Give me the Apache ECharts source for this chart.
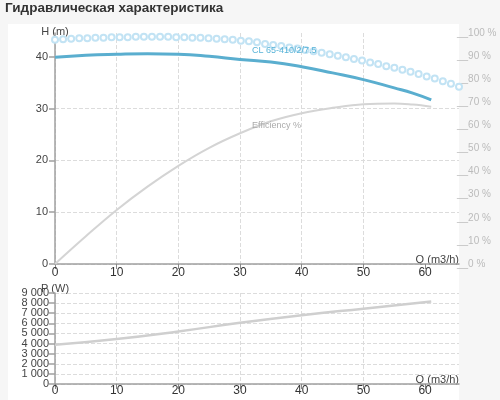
<!DOCTYPE html>
<html><head><meta charset="utf-8">
<script src="https://cdn.jsdelivr.net/npm/echarts@6/dist/echarts.min.js"></script>
<style>html,body{margin:0;padding:0;background:#f6f6f6}#c{width:500px;height:400px}</style>
</head><body><div id="c"></div>
<script>
const titleText = 'Гидравлическая характеристика';
const curveName = 'CL 65-410/2/7.5';
const effName = 'Efficiency %';
const qName = 'Q (m3/h)';
const hName = 'H (m)';
const pName = 'P (W)';

const qTicks = [0, 10, 20, 30, 40, 50, 60];
const hTicks = [0, 10, 20, 30, 40];
const pTicks = [0, 1000, 2000, 3000, 4000, 5000, 6000, 7000, 8000, 9000];

// Head curve
const hQ = [0, 5, 10, 15, 20, 25, 30, 35, 40, 45, 50, 55, 58, 61];
const hH = [39.9, 40.3, 40.5, 40.6, 40.5, 40.1, 39.5, 39.0, 38.1, 36.9, 35.6, 34.0, 33.0, 31.7];

// Efficiency curve (%)
const effQ = [0, 5, 10, 15, 20, 25, 30, 35, 40, 45, 50, 55, 58, 61];
const effV = [0, 12.0, 23.4, 33.5, 42.5, 50.3, 56.6, 61.8, 65.3, 67.6, 69.2, 69.5, 69.0, 68.1];

// Dotted (hollow circle) curve
const dotQ = [0, 1.31, 2.62, 3.93, 5.24, 6.55, 7.86, 9.17, 10.48, 11.79, 13.1, 14.41, 15.72, 17.03, 18.34, 19.65, 20.96,
  22.27, 23.58, 24.89, 26.2, 27.51, 28.82, 30.13, 31.44, 32.75, 34.06, 35.37, 36.68, 37.99, 39.3, 40.61, 41.92, 43.23,
  44.54, 45.85, 47.16, 48.47, 49.78, 51.09, 52.4, 53.71, 55.02, 56.33, 57.64, 58.95, 60.26, 61.57, 62.88, 64.19, 65.5];
const dotH = [43.3, 43.4, 43.5, 43.6, 43.6, 43.7, 43.7, 43.8, 43.8, 43.8, 43.9, 43.9, 43.9, 43.9, 43.9, 43.8, 43.8,
  43.7, 43.7, 43.6, 43.5, 43.4, 43.3, 43.1, 43.0, 42.8, 42.5, 42.3, 42.1, 41.8, 41.6, 41.3, 41.1, 40.8,
  40.5, 40.2, 39.9, 39.6, 39.3, 38.9, 38.6, 38.2, 37.9, 37.5, 37.1, 36.7, 36.2, 35.8, 35.3, 34.8, 34.2];

// Power curve (W)
const pQ = [0, 10, 20, 30, 40, 50, 61];
const pW = [3870, 4450, 5200, 6050, 6800, 7450, 8150];

const labelIdx = 6; // label anchor at Q = 30

const pairs = (xs, ys) => xs.map((x, i) => [x, ys[i]]);
const font = "'Liberation Sans', Arial, sans-serif";
const fmtThousands = v => String(v).replace(/\B(?=(\d{3})+(?!\d))/g, ' ');
const pEven = pTicks.filter((v, i) => i % 2 === 0);
const pOdd = pTicks.filter((v, i) => i % 2 === 1);

const chart = echarts.init(document.getElementById('c'));
const gridLine = { show: true, lineStyle: { color: '#dcdcdc', type: 'dashed', width: 1 }, showMaxLine: false };
const axisLineStyle = { show: true, lineStyle: { color: '#a0a0a0', width: 1.5 } };

function xAxisCfg(gridIndex, margin) {
  return {
    type: 'value', gridIndex, min: 0, max: 65.5, interval: 10,
    name: qName, nameLocation: 'end', nameGap: 0, nameMoveOverlap: false,
    nameTextStyle: { align: 'right', verticalAlign: 'bottom', fontSize: 11, color: '#444', padding: [0, 0, -1, 0] },
    axisLine: axisLineStyle,
    axisTick: { show: true, length: 5, lineStyle: { color: '#888' }, customValues: qTicks },
    axisLabel: { customValues: qTicks, fontSize: 12, color: '#333', margin, showMinLabel: true, showMaxLabel: true, hideOverlap: false },
    splitLine: gridLine
  };
}

function pLabelAxis(values, main) {
  return {
    type: 'value', gridIndex: 1, min: 0, max: 9000, interval: 1000, position: 'left', offset: 0,
    name: main ? pName : '', nameLocation: 'end', nameGap: 4, nameMoveOverlap: false,
    nameTextStyle: { align: 'center', verticalAlign: 'middle', fontSize: 11, color: '#444' },
    axisLine: main ? axisLineStyle : { show: false },
    axisTick: { show: main, length: 6, lineStyle: { color: '#a0a0a0', width: 1.5 }, customValues: pTicks },
    axisLabel: {
      customValues: values, color: '#444', margin: 6, hideOverlap: false,
      showMinLabel: true, showMaxLabel: true, fontSize: 11, formatter: fmtThousands
    },
    splitLine: main ? { show: true, lineStyle: { color: '#dcdcdc', type: 'dashed', width: 1 } } : { show: false }
  };
}

chart.setOption({
  backgroundColor: '#f6f6f6',
  textStyle: { fontFamily: font },
  animation: false,
  title: { text: titleText, left: 5, top: 1, padding: 0, textStyle: { fontSize: 13.5, fontWeight: 'bold', color: '#333' } },
  graphic: [{ type: 'rect', z: -10, silent: true, shape: { x: 8, y: 24, width: 451, height: 376 }, style: { fill: '#ffffff' } }],
  grid: [
    { left: 55, right: 41, top: 33, bottom: 136, containLabel: false, outerBoundsMode: 'none' },
    { left: 55, right: 41, top: 293, bottom: 16, containLabel: false, outerBoundsMode: 'none' }
  ],
  xAxis: [xAxisCfg(0, 3), xAxisCfg(1, 1)],
  yAxis: [
    {
      type: 'value', gridIndex: 0, min: 0, max: 44.6, interval: 10,
      name: hName, nameLocation: 'end', nameGap: 1, nameMoveOverlap: false,
      nameTextStyle: { align: 'center', verticalAlign: 'middle', fontSize: 11, color: '#444' },
      axisLine: axisLineStyle,
      axisTick: { show: true, length: 6, lineStyle: { color: '#a0a0a0', width: 1.5 }, customValues: hTicks },
      axisLabel: { customValues: hTicks, fontSize: 11, color: '#444', margin: 7, showMinLabel: true, showMaxLabel: true, hideOverlap: false },
      splitLine: gridLine
    },
    {
      type: 'value', gridIndex: 0, min: 0, max: 100, interval: 10, position: 'right',
      axisLine: { show: false }, axisTick: { show: false },
      axisLabel: { fontSize: 10, color: '#bbbbbb', margin: -2, showMinLabel: true, showMaxLabel: true, hideOverlap: false, formatter: v => '__' + v + ' %' },
      splitLine: { show: false }
    },
    pLabelAxis(pEven, true),
    pLabelAxis(pOdd, false)
  ],
  series: [
    {
      type: 'line', name: effName, xAxisIndex: 0, yAxisIndex: 1, smooth: 0.4, showSymbol: false,
      data: pairs(effQ, effV), lineStyle: { color: '#d4d4d4', width: 2 }, z: 2,
      markPoint: {
        symbol: 'circle', symbolSize: 0,
        label: { show: true, position: [12, -8], formatter: effName, color: '#aaaaaa', fontSize: 9, verticalAlign: 'middle', align: 'left' },
        data: [{ coord: [effQ[labelIdx], effV[labelIdx]] }]
      }
    },
    {
      type: 'line', name: 'dots', xAxisIndex: 0, yAxisIndex: 0, smooth: false,
      symbol: 'emptyCircle', symbolSize: 6, showSymbol: true, showAllSymbol: true,
      data: pairs(dotQ, dotH), lineStyle: { width: 0, opacity: 0 },
      itemStyle: { color: '#c2e3f4', borderColor: '#c2e3f4', borderWidth: 1 }, z: 3
    },
    {
      type: 'line', name: curveName, xAxisIndex: 0, yAxisIndex: 0, smooth: true, showSymbol: false,
      data: pairs(hQ, hH), lineStyle: { color: '#5aaecf', width: 3 }, z: 4,
      markPoint: {
        symbol: 'circle', symbolSize: 0, z: 10,
        label: { show: true, position: [12, -9], formatter: curveName, color: '#5ab4d8', fontSize: 9, verticalAlign: 'middle', align: 'left' },
        data: [{ coord: [hQ[labelIdx], hH[labelIdx]] }]
      }
    },
    {
      type: 'line', name: 'P', xAxisIndex: 1, yAxisIndex: 2, smooth: true, showSymbol: false,
      data: pairs(pQ, pW), lineStyle: { color: '#cfcfcf', width: 2.5 }, z: 2
    }
  ]
});
</script>
</body></html>
